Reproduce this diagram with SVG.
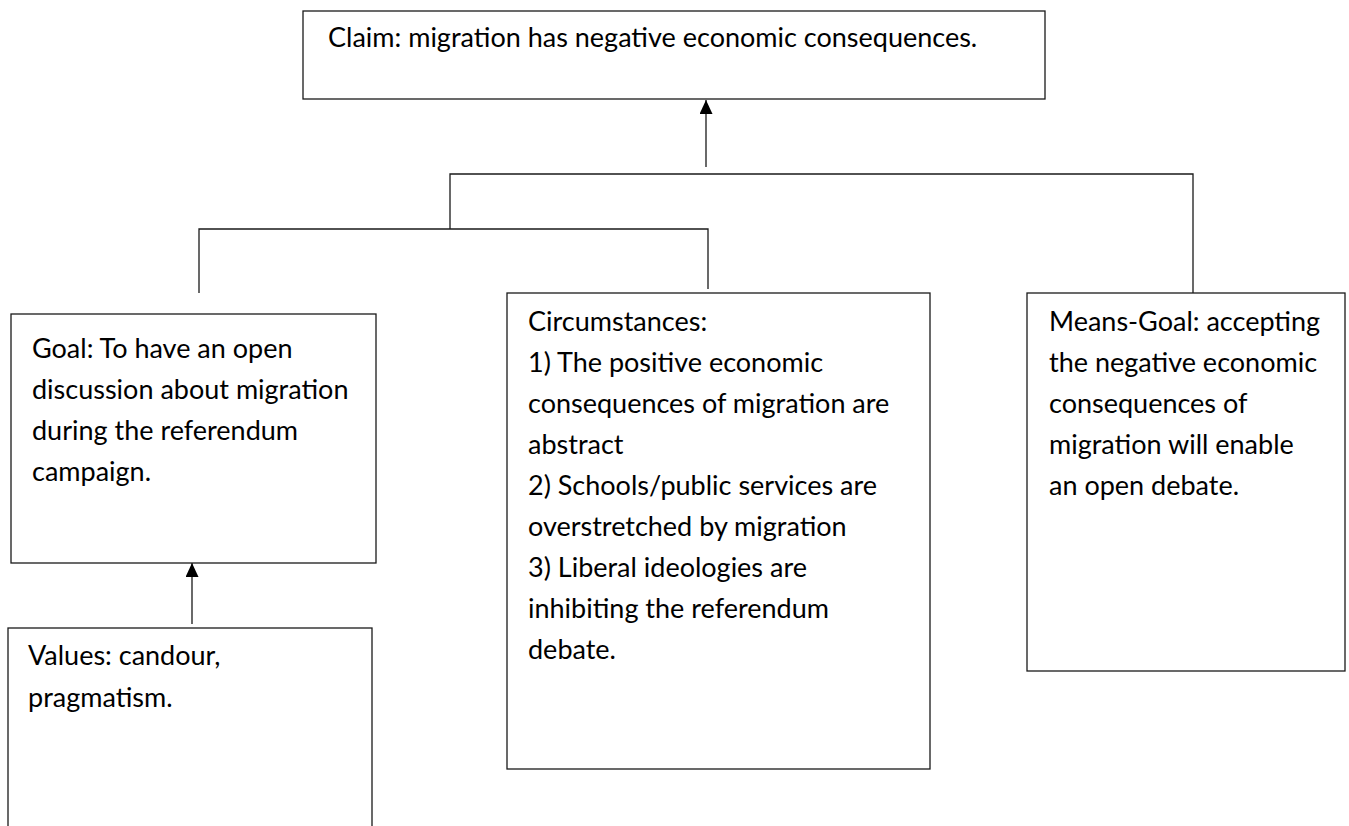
<svg xmlns="http://www.w3.org/2000/svg" width="1349" height="826" viewBox="0 0 1349 826">
<defs>
<style>
.box{fill:#fff;stroke:#1a1a1a;stroke-width:1.3}
.t{font-family:Lato,"Liberation Sans",sans-serif;font-size:27px;fill:#000}
.ln{fill:none;stroke:#1a1a1a;stroke-width:1.3}
</style>
<marker id="ah2" viewBox="0 0 14 13" refX="14" refY="6.5" markerWidth="14" markerHeight="13" markerUnits="userSpaceOnUse" orient="auto">
<path d="M0,0 L14,6.5 L0,13 Z" fill="#000"/>
</marker>
</defs>
<rect width="1349" height="826" fill="#fff"/>
<g id="connectors">
<line class="ln" x1="706" y1="167" x2="706" y2="100" marker-end="url(#ah2)"/>
<polyline class="ln" points="450,229 450,174 1193,174 1193,293"/>
<polyline class="ln" points="199,293 199,229 708,229 708,289"/>
<line class="ln" x1="192" y1="624" x2="192" y2="563" marker-end="url(#ah2)"/>
</g>
<g id="claim">
<rect class="box" x="303" y="11" width="742" height="88"/>
<text class="t" x="328" y="47">Claim: migration has negative economic consequences.</text>
</g>
<g id="goal">
<rect class="box" x="11" y="314" width="365" height="249"/>
<text class="t"><tspan x="32" y="358">Goal: To have an open</tspan><tspan x="32" y="399">discussion about migration</tspan><tspan x="32" y="440">during the referendum</tspan><tspan x="32" y="481">campaign.</tspan></text>
</g>
<g id="values">
<rect class="box" x="8" y="628" width="364" height="230"/>
<text class="t"><tspan x="28" y="665">Values: candour,</tspan><tspan x="28" y="707">pragmatism.</tspan></text>
</g>
<g id="circumstances">
<rect class="box" x="507" y="293" width="423" height="476"/>
<text class="t"><tspan x="528" y="331">Circumstances:</tspan><tspan x="528" y="372">1) The positive economic</tspan><tspan x="528" y="413">consequences of migration are</tspan><tspan x="528" y="454">abstract</tspan><tspan x="528" y="495">2) Schools/public services are</tspan><tspan x="528" y="536">overstretched by migration</tspan><tspan x="528" y="577">3) Liberal ideologies are</tspan><tspan x="528" y="618">inhibiting the referendum</tspan><tspan x="528" y="659">debate.</tspan></text>
</g>
<g id="means-goal">
<rect class="box" x="1027" y="293" width="318" height="378"/>
<text class="t"><tspan x="1049" y="331">Means-Goal: accepting</tspan><tspan x="1049" y="372">the negative economic</tspan><tspan x="1049" y="413">consequences of</tspan><tspan x="1049" y="454">migration will enable</tspan><tspan x="1049" y="495">an open debate.</tspan></text>
</g>
</svg>
